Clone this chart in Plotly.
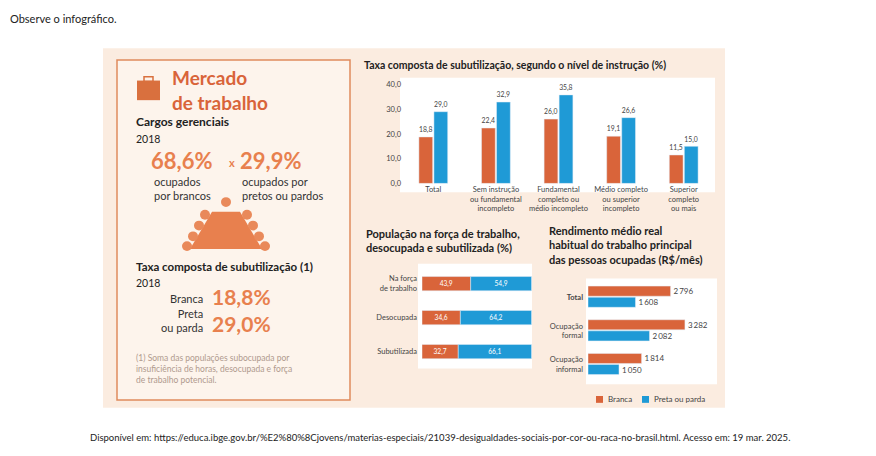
import plotly.graph_objects as go

W, H = 860, 440   # the page body has an 8px margin
OR = "#d9643a"; BL = "#1f9ad6"

# Top chart data
niveis = ["Total", "Sem instrução<br>ou fundamental<br>incompleto", "Fundamental<br>completo ou<br>médio incompleto",
          "Médio completo<br>ou superior<br>incompleto", "Superior<br>completo<br>ou mais"]
sub_branca = [18.8, 22.4, 26.0, 19.1, 11.5]
sub_preta = [29.0, 32.9, 35.8, 26.6, 15.0]
ticks_top = [0, 10, 20, 30, 40]

# Middle chart data
pop_cats = ["Na força<br>de trabalho", "Desocupada", "Subutilizada"]
pop_branca = [43.9, 34.6, 32.7]
pop_preta = [54.9, 64.2, 66.1]

# Right chart data
rend_cats = ["<b>Total</b>", "Ocupação<br>formal", "Ocupação<br>informal"]
rend_branca = [2796, 3282, 1814]
rend_preta = [1608, 2082, 1050]
legend_names = ["Branca", "Preta ou parda"]

def px(x): return (x - 8) / W
def py(y): return 1 - (y - 8) / H
def fmt_br(v): return f"{v:.1f}".replace(".", ",")
def fmt_th(v): return f"{v:,}".replace(",", "\u2009")

fig = go.Figure()
FONT = "Lato"

fig.add_bar(x=niveis, y=sub_branca, marker_color=OR, width=0.22, offset=-0.23,
            text=[fmt_br(v) for v in sub_branca], textposition="outside",
            textfont=dict(size=8, color="#444"), xaxis="x", yaxis="y", cliponaxis=False)
fig.add_bar(x=niveis, y=sub_preta, marker_color=BL, width=0.22, offset=0.01,
            text=[fmt_br(v) for v in sub_preta], textposition="outside",
            textfont=dict(size=8, color="#444"), xaxis="x", yaxis="y", cliponaxis=False)

fig.add_bar(y=pop_cats, x=pop_branca, orientation="h", marker_color=OR, width=0.42,
            text=[fmt_br(v) for v in pop_branca], textposition="inside", insidetextanchor="middle",
            textfont=dict(size=8, color="white"), xaxis="x2", yaxis="y2")
fig.add_bar(y=pop_cats, x=pop_preta, base=pop_branca, orientation="h", marker_color=BL, width=0.42,
            text=[fmt_br(v) for v in pop_preta], textposition="inside", insidetextanchor="middle",
            textfont=dict(size=8, color="white"), xaxis="x2", yaxis="y2")

fig.add_bar(y=rend_cats, x=rend_branca, orientation="h", marker_color=OR, width=0.3, offset=-0.33,
            text=[fmt_th(v) for v in rend_branca], textposition="outside",
            textfont=dict(size=8, color="#444"), xaxis="x3", yaxis="y3", cliponaxis=False)
fig.add_bar(y=rend_cats, x=rend_preta, orientation="h", marker_color=BL, width=0.3, offset=0.0,
            text=[fmt_th(v) for v in rend_preta], textposition="outside",
            textfont=dict(size=8, color="#444"), xaxis="x3", yaxis="y3", cliponaxis=False)

shapes = [
    dict(type="rect", xref="paper", yref="paper", x0=px(103), x1=px(725), y0=py(412), y1=py(45),
         fillcolor="#fbece0", line=dict(width=0), layer="below"),
    dict(type="rect", xref="paper", yref="paper", x0=px(117), x1=px(350), y0=py(404), y1=py(57),
         fillcolor="#fdf4ec", line=dict(color="#e08a5c", width=1.5), layer="below"),
    dict(type="rect", xref="paper", yref="paper", x0=px(400), x1=px(715), y0=py(192), y1=py(75),
         fillcolor="white", line=dict(width=0), layer="below"),
    dict(type="rect", xref="paper", yref="paper", x0=px(418), x1=px(532), y0=py(372), y1=py(265),
         fillcolor="white", line=dict(width=0), layer="below"),
    dict(type="rect", xref="paper", yref="paper", x0=px(586), x1=px(717), y0=py(388), y1=py(280),
         fillcolor="white", line=dict(width=0), layer="below"),
    dict(type="rect", xref="paper", yref="paper", x0=px(137), x1=px(160), y0=py(98), y1=py(78),
         fillcolor="#d9703e", line=dict(width=0)),
    dict(type="rect", xref="paper", yref="paper", x0=px(144), x1=px(153), y0=py(79), y1=py(74),
         fillcolor="rgba(0,0,0,0)", line=dict(color="#d9703e", width=1.5)),
    dict(type="path", xref="paper", yref="paper",
         path=f"M {px(212)} {py(212)} L {px(240)} {py(212)} L {px(262)} {py(250)} L {px(190)} {py(250)} Z",
         fillcolor="#e8804e", line=dict(width=0)),
    # legend swatches
    dict(type="rect", xref="paper", yref="paper", x0=px(596), x1=px(603), y0=py(407), y1=py(400),
         fillcolor=OR, line=dict(width=0)),
    dict(type="rect", xref="paper", yref="paper", x0=px(642), x1=px(649), y0=py(407), y1=py(400),
         fillcolor=BL, line=dict(width=0)),
]
people = [(226, 202), (205, 215), (199, 226), (193, 237), (187, 247), (247, 215), (253, 226), (259, 237), (265, 247)]
for (cx, cy) in people:
    shapes.append(dict(type="circle", xref="paper", yref="paper", x0=px(cx - 5), x1=px(cx + 5),
                       y0=py(cy + 5), y1=py(cy - 5), fillcolor="#e9895a", line=dict(width=0)))

def ann(x, y, text, size=10, color="#222", bold=False, xanchor="left", yanchor="middle", align="left", family=FONT):
    if bold:
        text = f"<b>{text}</b>"
    return dict(x=px(x), y=py(y), xref="paper", yref="paper", text=text, showarrow=False,
                xanchor=xanchor, yanchor=yanchor, align=align,
                font=dict(size=size, color=color, family=family))

annotations = [
    ann(8, 15, "Observe o infográfico.", 11, "#222"),
    ann(88, 442, "Disponível em: https://educa.ibge.gov.br/%E2%80%8Cjovens/materias-especiais/21039-desigualdades-sociais-por-cor-ou-raca-no-brasil.html. Acesso em: 19 mar. 2025.", 9.5, "#222"),
    ann(170, 88, "Mercado<br>de trabalho", 19, "#d9643a", True),
    ann(134, 120, "Cargos gerenciais", 12, "#222", True),
    ann(134, 138, "2018", 10.5, "#222"),
    ann(149, 160, "68,6%", 22, "#e8804e", True),
    ann(227, 162, "x", 11, "#e8804e", True),
    ann(238, 160, "29,9%", 22, "#e8804e", True),
    ann(152, 188, "ocupados<br>por brancos", 11, "#333"),
    ann(240, 188, "ocupados por<br>pretos ou pardos", 11, "#333"),
    ann(134, 268, "Taxa composta de subutilização (1)", 11.5, "#222", True),
    ann(134, 285, "2018", 10.5, "#222"),
    ann(205, 300, "Branca", 11, "#333", xanchor="right", align="right"),
    ann(210, 298, "18,8%", 21, "#e8804e", True),
    ann(205, 323, "Preta<br>ou parda", 11, "#333", xanchor="right", align="right"),
    ann(210, 326, "29,0%", 21, "#e8804e", True),
    ann(134, 372, "(1) Soma das populações subocupada por<br>insuficiência de horas, desocupada e força<br>de trabalho potencial.", 8.5, "#b09a8e"),
    ann(362, 62, "Taxa composta de subutilização, segundo o nível de instrução (%)", 10.5, "#222", True),
    ann(364, 241, "População na força de trabalho,<br>desocupada e subutilizada (%)", 11, "#222", True),
    ann(547, 246, "Rendimento médio real<br>habitual do trabalho principal<br>das pessoas ocupadas (R$/mês)", 11, "#222", True),
    ann(606, 403, legend_names[0], 8, "#444"),
    ann(652, 403, legend_names[1], 8, "#444"),
]

fig.update_layout(
    width=W, height=H, margin=dict(l=0, r=0, t=0, b=0),
    paper_bgcolor="white", plot_bgcolor="rgba(0,0,0,0)",
    font=dict(family=FONT, size=8, color="#444"),
    barmode="overlay", showlegend=False,
    shapes=shapes, annotations=annotations,
    xaxis=dict(domain=[px(402), px(715)], showgrid=False, tickfont=dict(size=7.5, color="#444"),
               ticks="", showline=False),
    yaxis=dict(domain=[py(183), py(82)], range=[0, 40], tickvals=ticks_top,
               ticktext=[f"{v},0" for v in ticks_top], showgrid=False, zeroline=False,
               tickfont=dict(size=7.5, color="#444")),
    xaxis2=dict(domain=[px(422), px(532)], range=[0, 99.2], visible=False),
    yaxis2=dict(domain=[py(372), py(268)], autorange="reversed", showgrid=False,
                tickfont=dict(size=7.5, color="#444"), anchor="x2", ticklabelstandoff=4),
    xaxis3=dict(domain=[px(588), px(715)], range=[0, 4300], visible=False),
    yaxis3=dict(domain=[py(385), py(282)], autorange="reversed", showgrid=False,
                tickfont=dict(size=7.5, color="#444"), anchor="x3", ticklabelstandoff=4),
)
fig.write_html("out.html")
